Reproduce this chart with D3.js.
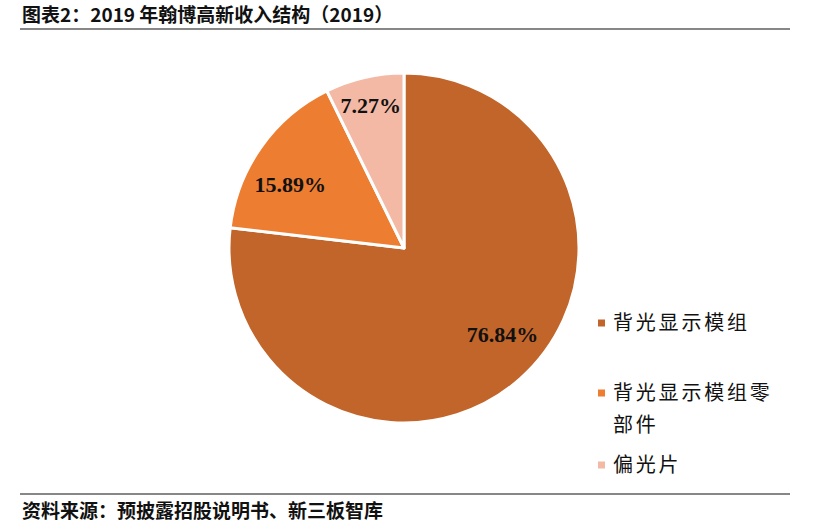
<!DOCTYPE html>
<html>
<head>
<meta charset="utf-8">
<script src="https://cdn.jsdelivr.net/npm/d3@7"></script>
<style>
  body { margin: 0; background: #fff; }
  svg { display: block; }
</style>
</head>
<body>
<svg id="chart"></svg>
<script>
const categories = ['背光显示模组', '背光显示模组零部件', '偏光片'];
const shares = [76.84, 15.89, 7.27];
const legendLines = [['背光显示模组'], ['背光显示模组零', '部件'], ['偏光片']];
const colors = ['#C1652A', '#ED7D31', '#F4B9A4'];

const width = 813, height = 527;
const cx = 404, cy = 248, radius = 175;

const svg = d3.select('#chart').attr('width', width).attr('height', height);

const cjk = '"Noto Sans CJK SC", sans-serif';
const num = '"Liberation Serif", "Times New Roman", serif';

// title + rules
svg.append('text')
  .attr('x', 22).attr('y', 22)
  .attr('font-family', cjk).attr('font-weight', 'bold')
  .attr('font-size', 19).attr('fill', '#111')
  .text('图表2：2019 年翰博高新收入结构（2019）');
svg.append('line').attr('x1', 20).attr('x2', 790).attr('y1', 29).attr('y2', 29)
  .attr('stroke', '#111').attr('stroke-width', 1.2);
svg.append('line').attr('x1', 20).attr('x2', 790).attr('y1', 494).attr('y2', 494)
  .attr('stroke', '#111').attr('stroke-width', 1.2);
svg.append('text')
  .attr('x', 22).attr('y', 518)
  .attr('font-family', cjk).attr('font-weight', 'bold')
  .attr('font-size', 19).attr('fill', '#111')
  .text('资料来源：预披露招股说明书、新三板智库');

// pie
const pie = d3.pie().sort(null).value(d => d);
const arcs = pie(shares);
const arc = d3.arc().innerRadius(0).outerRadius(radius);

const body = svg.append('g').attr('transform', 'translate(' + cx + ',' + cy + ')');

body.selectAll('path.slice')
  .data(arcs)
  .join('path')
  .attr('class', 'slice')
  .attr('d', arc)
  .attr('fill', (d, i) => colors[i])
  .attr('stroke', '#fff')
  .attr('stroke-width', 3)
  .attr('stroke-linejoin', 'round');

// label placement: radius fraction and angle shift (deg)
const labelR = [0.75, 0.745, 0.84];
const labelShift = [-7, -6, 0];
body.selectAll('text.lbl')
  .data(arcs)
  .join('text')
  .attr('class', 'lbl')
  .attr('transform', (d, i) => {
    const r = radius * labelR[i];
    const a = (d.startAngle + d.endAngle) / 2 + labelShift[i] * Math.PI / 180;
    return 'translate(' + (Math.sin(a) * r) + ',' + (-Math.cos(a) * r) + ')';
  })
  .attr('text-anchor', 'middle')
  .attr('dy', '0.35em')
  .attr('font-family', num).attr('font-weight', 'bold')
  .attr('font-size', 22).attr('fill', '#111')
  .text(d => d.data.toFixed(2) + '%');

// legend
const legendY = [323, 393, 465];
const legend = svg.append('g');
legendLines.forEach((lines, i) => {
  legend.append('rect')
    .attr('x', 598).attr('y', legendY[i] - 3.5)
    .attr('width', 7).attr('height', 7)
    .attr('fill', colors[i]);
  lines.forEach((t, j) => {
    legend.append('text')
      .attr('x', 613).attr('y', legendY[i] + j * 32)
      .attr('dy', '0.35em')
      .attr('font-family', cjk)
      .attr('font-size', 20).attr('fill', '#111')
      .attr('letter-spacing', 2.8)
      .text(t);
  });
});
</script>
</body>
</html>
